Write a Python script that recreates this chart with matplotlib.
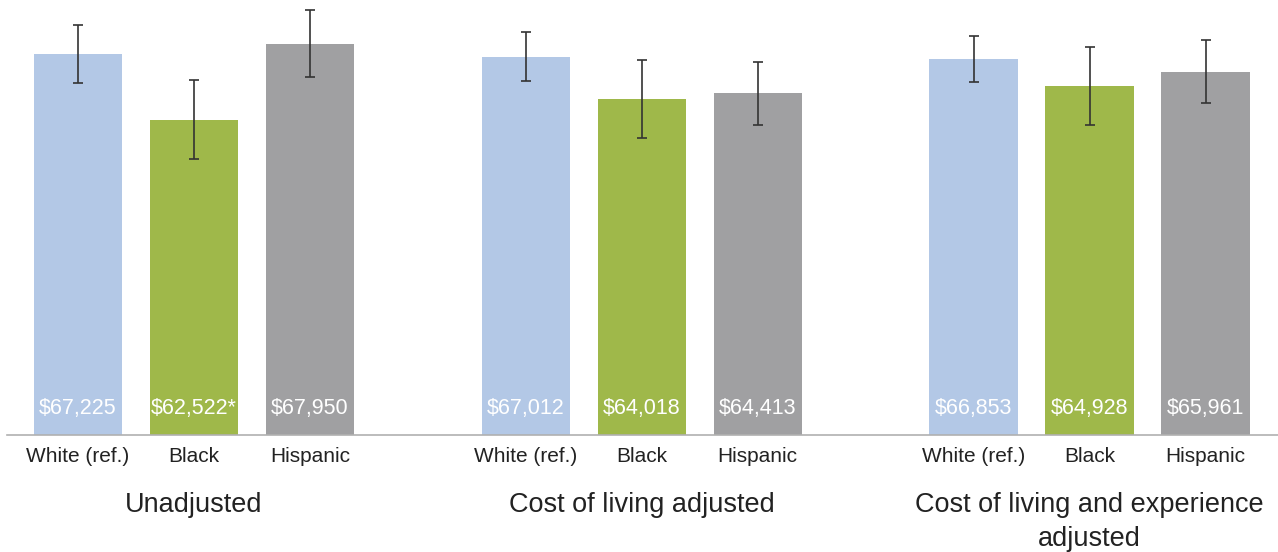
import matplotlib.pyplot as plt
import numpy as np
from matplotlib.transforms import blended_transform_factory

plt.rcParams["font.family"] = ["Liberation Sans", "DejaVu Sans"]

groups = ["Unadjusted", "Cost of living adjusted", "Cost of living and experience\nadjusted"]
races = ["White (ref.)", "Black", "Hispanic"]
salaries = [
    [67225, 62522, 67950],
    [67012, 64018, 64413],
    [66853, 64928, 65961],
]
errors = [
    [2080, 2800, 2390],
    [1760, 2770, 2260],
    [1630, 2800, 2250],
]
significant = [
    [False, True, False],
    [False, False, False],
    [False, False, False],
]
colors = ["#b3c8e6", "#9fb84a", "#a0a0a2"]

GROUP_STEP = 3.86
BAR_WIDTH = 0.76

fig = plt.figure(figsize=(12.78, 5.52), dpi=100)
ax = fig.add_axes([7 / 1278, 117 / 552, 1271 / 1278, 435 / 552])

positions = []
labels = []
for g, (vals, errs, sig) in enumerate(zip(salaries, errors, significant)):
    xs = g * GROUP_STEP + np.arange(len(races))
    ax.bar(xs, vals, width=BAR_WIDTH, color=colors, zorder=2)
    ax.errorbar(xs, vals, yerr=errs, fmt="none", ecolor="#333333",
                elinewidth=1.2, capsize=3.8, capthick=1.2, zorder=3)
    for x, v, s in zip(xs, vals, sig):
        text = f"${v:,}" + ("*" if s else "")
        ax.text(x, 40000 + 27 * 71.4, text, ha="center", va="center",
                fontsize=15.5, color="white", zorder=4)
    positions.extend(xs)
    labels.extend(races)

ax.set_xlim(-0.612, 10.345)
ax.set_ylim(40000, 71070)
ax.set_xticks(positions, labels, fontsize=15, color="#222222")
ax.tick_params(axis="x", length=0, pad=8.5)
ax.set_yticks([])
for side in ["left", "right", "top"]:
    ax.spines[side].set_visible(False)
ax.spines["bottom"].set_color("#b0b0b0")
ax.spines["bottom"].set_linewidth(1.2)

trans = blended_transform_factory(ax.transData, fig.transFigure)
for g, name in enumerate(groups):
    ax.text(g * GROUP_STEP + 1, 1 - 492 / 552, name, transform=trans,
            ha="center", va="top", fontsize=19.5, color="#222222",
            linespacing=1.4)

fig.savefig("out.png", dpi=100)
